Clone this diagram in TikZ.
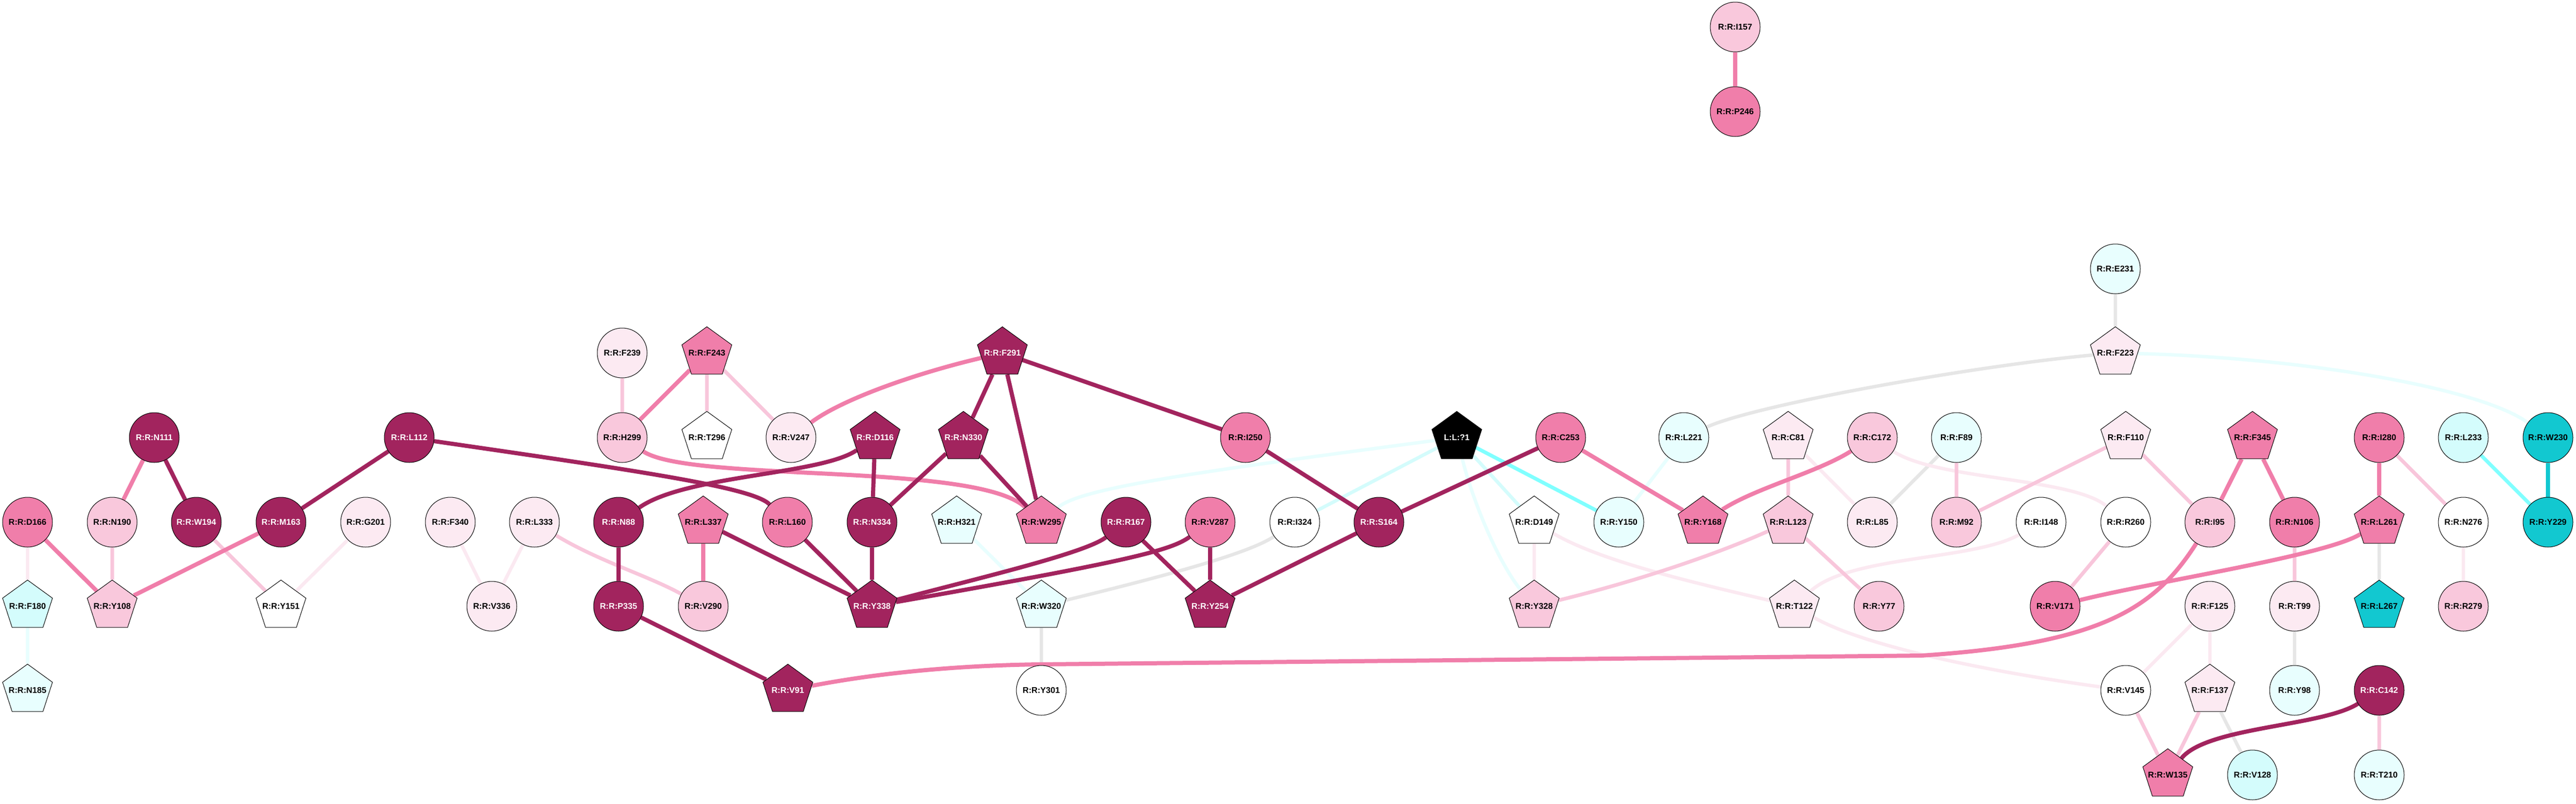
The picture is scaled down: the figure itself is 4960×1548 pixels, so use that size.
\documentclass[tikz,border=0pt]{standalone}
\usepackage{fontspec}
\newfontfamily\resfont{Liberation Sans}
\usetikzlibrary{shapes.geometric,backgrounds}
\definecolor{cDark}{HTML}{A2245E}
\definecolor{cPink}{HTML}{F07EAA}
\definecolor{cLPink}{HTML}{F9C8DC}
\definecolor{cVPink}{HTML}{FCEAF2}
\definecolor{cVCyan}{HTML}{E8FEFE}
\definecolor{cLCyan}{HTML}{D4FCFC}
\definecolor{cTeal}{HTML}{12C8D0}
\definecolor{eLPink}{HTML}{F8C6DB}
\definecolor{eVPink}{HTML}{FBE9F1}
\definecolor{eGrey}{HTML}{E6E6E6}
\definecolor{eCyan}{HTML}{80FFFF}
\begin{document}
\begin{tikzpicture}[x=0.1mm,y=-0.1mm,
  res/.style={draw=black,line width=0.1mm,inner sep=0pt,font=\resfont\bfseries\fontsize{4.6pt}{5pt}\selectfont},
  rc/.style={res,circle,minimum size=9.6mm},
  rp/.style={res,regular polygon,regular polygon sides=5,minimum size=10.1mm,
    execute at begin node={\hbox to 0pt\bgroup\hss}, execute at end node={\hss\egroup}},
  fdk/.style={fill=cDark,text=white}, fpk/.style={fill=cPink}, flp/.style={fill=cLPink},
  fvp/.style={fill=cVPink}, fwh/.style={fill=white}, fvc/.style={fill=cVCyan},
  flc/.style={fill=cLCyan}, ftl/.style={fill=cTeal}, fbk/.style={fill=black,text=white},
  edk/.style={line width=0.8mm,cDark}, epk/.style={line width=0.8mm,cPink},
  elp/.style={line width=0.7mm,eLPink}, evp/.style={line width=0.65mm,eVPink},
  egr/.style={line width=0.65mm,eGrey}, evc/.style={line width=0.65mm,cVCyan},
  elc/.style={line width=0.65mm,cLCyan}, ecy/.style={line width=0.7mm,eCyan},
  etl/.style={line width=0.8mm,cTeal}]
\useasboundingbox (0,0) rectangle (4960,1548);
% top
\node[rc,flp] (I157) at (3341,52) {R:R:I157};
\node[rc,fpk] (P246) at (3341,215) {R:R:P246};
\node[rc,fvc] (E231) at (4073,518) {R:R:E231};
\node[rc,fvp] (F239) at (1198,680) {R:R:F239};
\node[rp,fpk] (F243) at (1361,680) {R:R:F243};
\node[rp,fdk] (F291) at (1930,680) {R:R:F291};
\node[rp,fvp] (F223) at (4073,680) {R:R:F223};
% row 843
\node[rc,fdk] (N111) at (297,843) {R:R:N111};
\node[rc,fdk] (L112) at (788,843) {R:R:L112};
\node[rc,flp] (H299) at (1198,843) {R:R:H299};
\node[rp,fwh] (T296) at (1361,843) {R:R:T296};
\node[rc,fvp] (V247) at (1523,843) {R:R:V247};
\node[rp,fdk] (D116) at (1685,843) {R:R:D116};
\node[rp,fdk] (N330) at (1855,843) {R:R:N330};
\node[rc,fpk] (I250) at (2398,843) {R:R:I250};
\node[rp,fbk] (lig) at (2805,843) {L:L:?1};
\node[rc,fpk] (C253) at (3005,843) {R:R:C253};
\node[rc,fvc] (L221) at (3242,843) {R:R:L221};
\node[rp,fvp] (C81) at (3443,843) {R:R:C81};
\node[rc,flp] (C172) at (3605,843) {R:R:C172};
\node[rc,fvc] (F89) at (3767,843) {R:R:F89};
\node[rp,fvp] (F110) at (4093,843) {R:R:F110};
\node[rp,fpk] (F345) at (4337,843) {R:R:F345};
\node[rc,fpk] (I280) at (4581,843) {R:R:I280};
\node[rc,flc] (L233) at (4743,843) {R:R:L233};
\node[rc,ftl] (W230) at (4906,843) {R:R:W230};
% row 1006
\node[rc,fpk] (D166) at (53,1006) {R:R:D166};
\node[rc,flp] (N190) at (216,1006) {R:R:N190};
\node[rc,fdk] (W194) at (378,1006) {R:R:W194};
\node[rc,fdk] (M163) at (541,1006) {R:R:M163};
\node[rc,fvp] (G201) at (704,1006) {R:R:G201};
\node[rc,fvp] (F340) at (867,1006) {R:R:F340};
\node[rc,fvp] (L333) at (1029,1006) {R:R:L333};
\node[rc,fdk] (N88) at (1191,1006) {R:R:N88};
\node[rp,fpk] (L337) at (1354,1006) {R:R:L337};
\node[rc,fpk] (L160) at (1516,1006) {R:R:L160};
\node[rc,fdk] (N334) at (1679,1006) {R:R:N334};
\node[rp,fvc] (H321) at (1842,1006) {R:R:H321};
\node[rp,fpk] (W295) at (2005,1006) {R:R:W295};
\node[rc,fdk] (R167) at (2168,1006) {R:R:R167};
\node[rc,fpk] (V287) at (2330,1006) {R:R:V287};
\node[rc,fwh] (I324) at (2493,1006) {R:R:I324};
\node[rc,fdk] (S164) at (2655,1006) {R:R:S164};
\node[rp,fwh] (D149) at (2954,1006) {R:R:D149};
\node[rc,fvc] (Y150) at (3117,1006) {R:R:Y150};
\node[rp,fpk] (Y168) at (3279,1006) {R:R:Y168};
\node[rp,flp] (L123) at (3443,1006) {R:R:L123};
\node[rc,fvp] (L85) at (3605,1006) {R:R:L85};
\node[rc,flp] (M92) at (3767,1006) {R:R:M92};
\node[rc,fwh] (I148) at (3930,1006) {R:R:I148};
\node[rc,fwh] (R260) at (4093,1006) {R:R:R260};
\node[rc,flp] (I95) at (4255,1006) {R:R:I95};
\node[rc,fpk] (N106) at (4418,1006) {R:R:N106};
\node[rp,fpk] (L261) at (4581,1006) {R:R:L261};
\node[rc,fwh] (N276) at (4743,1006) {R:R:N276};
\node[rc,ftl] (Y229) at (4906,1006) {R:R:Y229};
% row 1168
\node[rp,flc] (F180) at (53,1168) {R:R:F180};
\node[rp,flp] (Y108) at (216,1168) {R:R:Y108};
\node[rp,fwh] (Y151) at (541,1168) {R:R:Y151};
\node[rc,fvp] (V336) at (947,1168) {R:R:V336};
\node[rc,fdk] (P335) at (1191,1168) {R:R:P335};
\node[rc,flp] (V290) at (1354,1168) {R:R:V290};
\node[rp,fdk] (Y338) at (1679,1168) {R:R:Y338};
\node[rp,fvc] (W320) at (2005,1168) {R:R:W320};
\node[rp,fdk] (Y254) at (2330,1168) {R:R:Y254};
\node[rp,flp] (Y328) at (2954,1168) {R:R:Y328};
\node[rp,fvp] (T122) at (3455,1168) {R:R:T122};
\node[rc,flp] (Y77) at (3618,1168) {R:R:Y77};
\node[rc,fpk] (V171) at (3957,1168) {R:R:V171};
\node[rc,fvp] (F125) at (4255,1168) {R:R:F125};
\node[rc,fvp] (T99) at (4418,1168) {R:R:T99};
\node[rp,ftl] (L267) at (4581,1168) {R:R:L267};
\node[rc,flp] (R279) at (4743,1168) {R:R:R279};
% row 1330
\node[rp,fvc] (N185) at (53,1330) {R:R:N185};
\node[rp,fdk] (V91) at (1517,1330) {R:R:V91};
\node[rc,fwh] (Y301) at (2005,1330) {R:R:Y301};
\node[rc,fwh] (V145) at (4093,1330) {R:R:V145};
\node[rp,fvp] (F137) at (4255,1330) {R:R:F137};
\node[rc,fvc] (Y98) at (4418,1330) {R:R:Y98};
\node[rc,fdk] (C142) at (4581,1330) {R:R:C142};
% row 1493
\node[rp,fpk] (W135) at (4174,1493) {R:R:W135};
\node[rc,flc] (V128) at (4337,1493) {R:R:V128};
\node[rc,fvc] (T210) at (4581,1493) {R:R:T210};
\begin{scope}[on background layer]
\fill[white] (0,0) rectangle (4960,1548);
% faint links
\draw[evc] (F180)--(N185) (H321)--(W320) (L221)--(Y150);
\draw[evc] (lig) .. controls (2300,910) and (2080,940) .. (W295);
\draw[evc] (lig) .. controls (2840,980) and (2890,1090) .. (Y328);
\draw[evc] (F223) .. controls (4450,690) and (4780,750) .. (W230);
\draw[elc] (lig)--(I324) (lig)--(D149);
\draw[egr] (W320)--(Y301) (E231)--(F223) (F89)--(L85) (L261)--(L267) (T99)--(Y98) (F137)--(V128);
\draw[egr] (W320) .. controls (2200,1120) and (2400,1070) .. (I324);
\draw[egr] (L221) .. controls (3380,780) and (3800,705) .. (F223);
\draw[evp] (D166)--(F180) (G201)--(Y151) (F340)--(V336) (L333)--(V336) (D149)--(Y328)
  (C81)--(L85) (N276)--(R279) (F125)--(V145) (F125)--(F137);
\draw[evp] (D149) .. controls (3080,1080) and (3250,1120) .. (T122);
\draw[evp] (C172) .. controls (3730,925) and (3990,920) .. (R260);
\draw[evp] (I148) .. controls (3800,1080) and (3560,1070) .. (T122);
\draw[evp] (T122) .. controls (3580,1240) and (3800,1290) .. (V145);
\draw[elp] (N190)--(Y108) (W194)--(Y151) (F239)--(H299) (F243)--(T296) (F243)--(V247)
  (C81)--(L123) (F89)--(M92) (L123)--(Y77) (F110)--(M92) (F110)--(I95) (R260)--(V171)
  (I280)--(N276) (N106)--(T99) (V145)--(W135) (F137)--(W135) (C142)--(T210);
\draw[elp] (L333) .. controls (1150,1080) and (1250,1110) .. (V290);
\draw[elp] (L123) .. controls (3300,1070) and (3150,1120) .. (Y328);
\draw[ecy] (lig)--(Y150) (L233)--(Y229);
\draw[etl] (W230)--(Y229);
% strong links
\draw[epk] (N111)--(N190) (D166)--(Y108) (M163)--(Y108) (F243)--(H299) (L337)--(V290)
  (C253)--(Y168) (F345)--(I95) (F345)--(N106) (I280)--(L261) (I157)--(P246);
\draw[epk] (H299) .. controls (1330,930) and (1880,890) .. (W295);
\draw[epk] (F291) .. controls (1760,720) and (1620,770) .. (V247);
\draw[epk] (C172) .. controls (3500,910) and (3380,940) .. (Y168);
\draw[epk] (V171) .. controls (4150,1120) and (4480,1070) .. (L261);
\draw[epk] (I95) .. controls (4150,1170) and (4050,1240) .. (3700,1263) -- (2000,1280)
  .. controls (1850,1282) and (1700,1295) .. (V91);
\draw[edk] (N111)--(W194) (L112)--(M163) (D116)--(N334) (N88)--(P335) (L337)--(Y338)
  (L160)--(Y338) (N334)--(Y338) (P335)--(V91) (F291)--(N330) (F291)--(W295) (F291)--(I250)
  (N330)--(N334) (N330)--(W295) (I250)--(S164) (R167)--(Y254) (V287)--(Y254)
  (S164)--(Y254) (S164)--(C253);
\draw[edk] (L112) .. controls (1250,910) and (1450,940) .. (L160);
\draw[edk] (D116) .. controls (1580,915) and (1320,915) .. (N88);
\draw[edk] (R167) .. controls (2090,1065) and (1900,1110) .. (Y338);
\draw[edk] (V287) .. controls (2255,1060) and (2180,1080) .. (Y338);
\draw[edk] (C142) .. controls (4470,1400) and (4250,1400) .. (W135);
\end{scope}
\end{tikzpicture}
\end{document}
